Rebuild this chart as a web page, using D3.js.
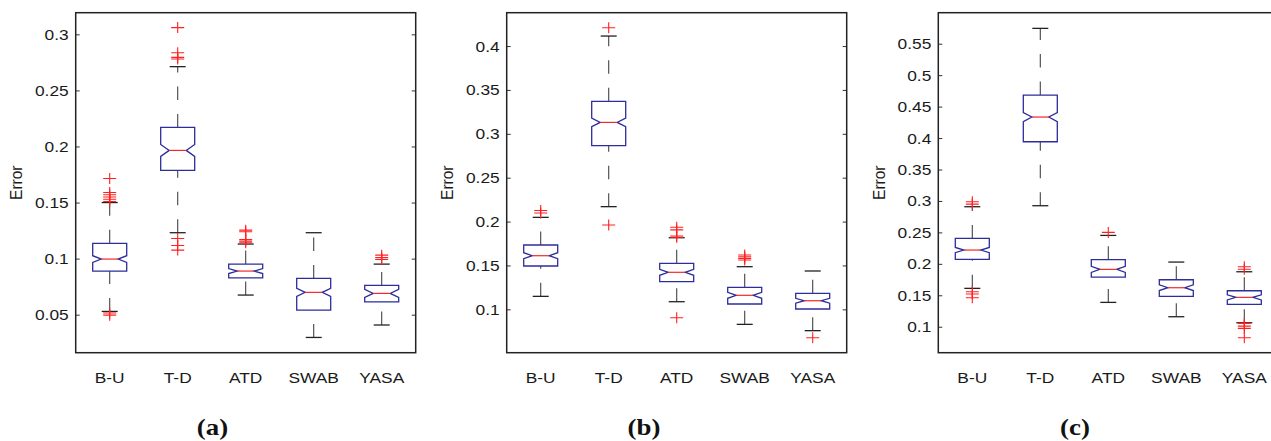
<!DOCTYPE html>
<html>
<head>
<meta charset="utf-8">
<script src="https://cdn.jsdelivr.net/npm/d3@7"></script>
<style>
  body { margin: 0; background: #fff; }
  #myDataVis svg { display: block; }
</style>
</head>
<body>
<div id="myDataVis"></div>
<script>
// methods on the x axis (same for every panel)
const methods = ['B-U', 'T-D', 'ATD', 'SWAB', 'YASA'];

// panel (a)
const q1A = [0.0889, 0.1787, 0.0829, 0.0541, 0.0615];
const medA = [0.0996, 0.1965, 0.0889, 0.0699, 0.0690];
const q3A = [0.1136, 0.2170, 0.0951, 0.0823, 0.0761];
const lowA = [0.0529, 0.1231, 0.0675, 0.0297, 0.0408];
const highA = [0.1500, 0.2712, 0.1130, 0.1231, 0.0951];
const notchA = [0.0030, 0.0053, 0.0022, 0.0037, 0.0036];
const outA = [
  [0.1715, 0.1590, 0.1570, 0.1550, 0.1530, 0.1510, 0.0515, 0.0496],
  [0.3060, 0.2836, 0.2795, 0.2780, 0.1180, 0.1117, 0.1076],
  [0.1254, 0.1239, 0.1171, 0.1156, 0.1141],
  [],
  [0.1031, 0.1010, 0.0993]
];
const ticksA = [0.05, 0.1, 0.15, 0.2, 0.25, 0.3];
const yDomA = [0.0161, 0.3193];

// panel (b)
const q1B = [0.1494, 0.2865, 0.1315, 0.1061, 0.1004];
const medB = [0.1611, 0.3130, 0.1422, 0.1160, 0.1098];
const q3B = [0.1733, 0.3370, 0.1524, 0.1251, 0.1182];
const lowB = [0.1148, 0.2170, 0.1087, 0.0829, 0.0757];
const highB = [0.2048, 0.4114, 0.1816, 0.1486, 0.1437];
const notchB = [0.0034, 0.0048, 0.0034, 0.0034, 0.0028];
const outB = [
  [0.2127, 0.2097],
  [0.4209, 0.1961],
  [0.1935, 0.1905, 0.1835, 0.1822, 0.0905],
  [0.1619, 0.1600, 0.1581, 0.1562],
  [0.0677]
];
const ticksB = [0.1, 0.15, 0.2, 0.25, 0.3, 0.35, 0.4];
const yDomB = [0.0506, 0.4380];

// panel (c)
const q1C = [0.2071, 0.3941, 0.1790, 0.1482, 0.1355];
const medC = [0.2219, 0.4334, 0.1912, 0.1620, 0.1467];
const q3C = [0.2404, 0.4684, 0.2066, 0.1747, 0.1572];
const lowC = [0.1610, 0.2924, 0.1387, 0.1159, 0.1063];
const highC = [0.2908, 0.5744, 0.2452, 0.2028, 0.1874];
const notchC = [0.0042, 0.0072, 0.0048, 0.0045, 0.0040];
const outC = [
  [0.2988, 0.2950, 0.1556, 0.1520, 0.1460],
  [],
  [0.2500],
  [],
  [0.1954, 0.1913, 0.1053, 0.1010, 0.0974, 0.0825]
];
const ticksC = [0.1, 0.15, 0.2, 0.25, 0.3, 0.35, 0.4, 0.45, 0.5, 0.55];
const yDomC = [0.0587, 0.5993];

const captions = ['(a)', '(b)', '(c)'];

// formating variables
const width = 1271;
const height = 441;
let svg = d3.select('#myDataVis').append('svg')
  .attr('width', width)
  .attr('height', height);
const panelLeft = [75.7, 506.7, 938.3];
const captionX = [212.5, 644, 1075];
const marginTop = 12.7;
const innerWidth = 340;
const innerHeight = 340;
const boxWidth = 34;
const capWidth = 16;
const sx = 1.12; // the original figure is a bit stretched sideways
const sans = "'Liberation Sans', Arial, sans-serif";

function drawPanel(i, q1, med, q3, low, high, notch, outliers, ticks, yDom) {
  let g = svg.append('g')
    .attr('transform', `translate(${panelLeft[i]},${marginTop})`);

  let xScale = d3.scaleBand().domain(methods).range([0, innerWidth]).padding(0);
  let yScale = d3.scaleLinear().domain(yDom).range([innerHeight, 0]);
  const cx = m => xScale(m) + xScale.bandwidth() / 2;

  // y axis, ticks point inwards
  let yAxis = g.append('g')
    .call(d3.axisLeft(yScale).tickValues(ticks).tickSize(-4).tickPadding(7)
      .tickFormat(d3.format('~g')))
    .attr('font-size', 15.5)
    .attr('font-family', sans);
  yAxis.select('.domain').remove();
  yAxis.selectAll('.tick line').attr('stroke', '#333');
  yAxis.selectAll('.tick text')
    .attr('x', -7 / sx)
    .attr('fill', '#1a1a1a')
    .attr('transform', `scale(${sx},1)`);

  let rAxis = g.append('g')
    .attr('transform', `translate(${innerWidth},0)`)
    .call(d3.axisRight(yScale).tickValues(ticks).tickSize(-4).tickFormat(''));
  rAxis.select('.domain').remove();
  rAxis.selectAll('.tick line').attr('stroke', '#333');

  // frame
  g.append('rect')
    .attr('width', innerWidth)
    .attr('height', innerHeight)
    .attr('fill', 'none')
    .attr('stroke', '#222')
    .attr('stroke-width', 1.5);

  // x labels
  g.selectAll('.xlabel')
    .data(methods)
    .enter()
    .append('text')
    .attr('class', 'xlabel')
    .attr('transform', d => `translate(${cx(d)},${innerHeight + 30}) scale(${sx},1)`)
    .attr('text-anchor', 'middle')
    .attr('font-family', sans)
    .attr('font-size', 15.5)
    .attr('fill', '#1a1a1a')
    .text(d => d);

  // y label
  g.append('text')
    .attr('class', 'ylabel')
    .attr('transform', `translate(-59.4,${innerHeight / 2}) rotate(-90) scale(1,${sx})`)
    .attr('text-anchor', 'middle')
    .attr('dy', '0.35em')
    .attr('font-family', sans)
    .attr('font-size', 15.5)
    .attr('fill', '#1a1a1a')
    .text('Error');

  const rows = methods.map((m, j) => ({
    m: m, q1: q1[j], med: med[j], q3: q3[j], low: low[j], high: high[j], n: notch[j], out: outliers[j]
  }));

  // whiskers (dashed), drawn from lower to upper end
  g.selectAll('.whisker-up')
    .data(rows)
    .enter()
    .append('line')
    .attr('x1', d => cx(d.m)).attr('x2', d => cx(d.m))
    .attr('y1', d => yScale(d.q3)).attr('y2', d => yScale(d.high))
    .attr('stroke', '#444').attr('stroke-width', 1.1)
    .attr('stroke-dasharray', '13.5,14');
  g.selectAll('.whisker-down')
    .data(rows)
    .enter()
    .append('line')
    .attr('x1', d => cx(d.m)).attr('x2', d => cx(d.m))
    .attr('y1', d => yScale(d.low)).attr('y2', d => yScale(d.q1))
    .attr('stroke', '#444').attr('stroke-width', 1.1)
    .attr('stroke-dasharray', '13.5,14');

  // whisker caps
  ['low', 'high'].forEach(k => {
    g.selectAll('.cap-' + k)
      .data(rows)
      .enter()
      .append('line')
      .attr('x1', d => cx(d.m) - capWidth / 2).attr('x2', d => cx(d.m) + capWidth / 2)
      .attr('y1', d => yScale(d[k])).attr('y2', d => yScale(d[k]))
      .attr('stroke', '#222').attr('stroke-width', 1.3);
  });

  // notched boxes
  g.selectAll('.box')
    .data(rows)
    .enter()
    .append('path')
    .attr('d', d => {
      const l = cx(d.m) - boxWidth / 2, r = cx(d.m) + boxWidth / 2;
      const il = cx(d.m) - boxWidth / 4, ir = cx(d.m) + boxWidth / 4;
      const p = d3.path();
      p.moveTo(l, yScale(d.q3));
      p.lineTo(r, yScale(d.q3));
      p.lineTo(r, yScale(d.med + d.n));
      p.lineTo(ir, yScale(d.med));
      p.lineTo(r, yScale(d.med - d.n));
      p.lineTo(r, yScale(d.q1));
      p.lineTo(l, yScale(d.q1));
      p.lineTo(l, yScale(d.med - d.n));
      p.lineTo(il, yScale(d.med));
      p.lineTo(l, yScale(d.med + d.n));
      p.closePath();
      return p.toString();
    })
    .attr('fill', 'white')
    .attr('stroke', '#2d2d9c')
    .attr('stroke-width', 1.3);

  // medians
  g.selectAll('.median')
    .data(rows)
    .enter()
    .append('line')
    .attr('x1', d => cx(d.m) - boxWidth / 4).attr('x2', d => cx(d.m) + boxWidth / 4)
    .attr('y1', d => yScale(d.med)).attr('y2', d => yScale(d.med))
    .attr('stroke', '#f02a2a').attr('stroke-width', 1.2);

  // outliers as red '+'
  const pts = [];
  rows.forEach(d => d.out.forEach(v => pts.push({ m: d.m, v: v })));
  g.selectAll('.outlier')
    .data(pts)
    .enter()
    .append('path')
    .attr('d', d => {
      const x = cx(d.m), y = yScale(d.v);
      return `M${x - 6.5},${y}H${x + 6.5}M${x},${y - 5.5}V${y + 5.5}`;
    })
    .attr('stroke', '#ff2020').attr('stroke-width', 1.1).attr('fill', 'none');

  // caption under the panel
  svg.append('text')
    .attr('class', 'caption')
    .attr('transform', `translate(${captionX[i]},435) scale(${sx},1)`)
    .attr('text-anchor', 'middle')
    .attr('font-family', "'Liberation Serif', 'Times New Roman', serif")
    .attr('font-weight', 'bold')
    .attr('font-size', 24)
    .attr('fill', '#111')
    .text(captions[i]);
}

drawPanel(0, q1A, medA, q3A, lowA, highA, notchA, outA, ticksA, yDomA);
drawPanel(1, q1B, medB, q3B, lowB, highB, notchB, outB, ticksB, yDomB);
drawPanel(2, q1C, medC, q3C, lowC, highC, notchC, outC, ticksC, yDomC);
</script>
</body>
</html>
